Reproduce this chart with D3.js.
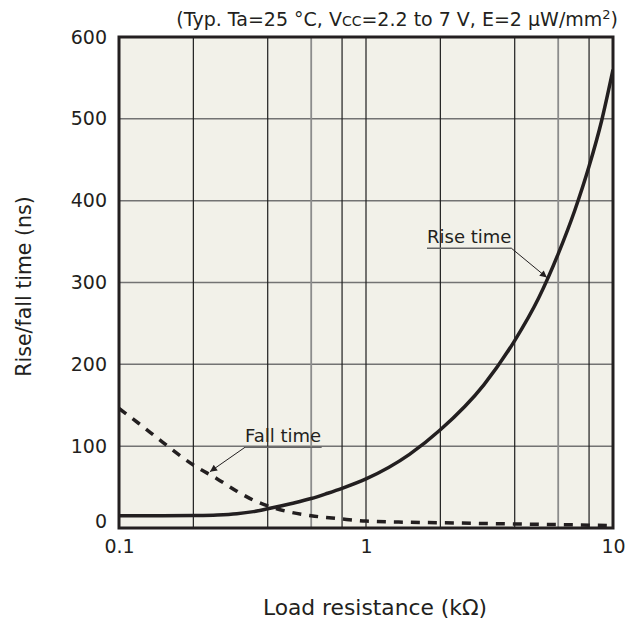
<!DOCTYPE html>
<html>
<head>
<meta charset="utf-8">
<script src="https://cdn.jsdelivr.net/npm/d3@7"></script>
<style>
  html, body { margin: 0; padding: 0; background: #fff; }
  svg { display: block; font-family: "DejaVu Sans", Verdana, sans-serif; }
</style>
</head>
<body>
<svg id="chart" width="625" height="624"></svg>
<script>
// ---- data ----
const riseR   = [0.1, 0.15, 0.2, 0.25, 0.3, 0.35, 0.4, 0.5, 0.6, 0.7, 0.8, 1, 1.5, 2, 3, 4, 5, 6, 7, 8, 9, 10];
const riseNs  = [15, 15, 15.3, 16, 17.5, 20, 23.5, 30, 36, 42.5, 48.5, 60, 90, 120, 175, 229, 281, 335, 388, 442, 498, 560];
const fallR   = [0.1, 0.12, 0.15, 0.2, 0.25, 0.3, 0.35, 0.4, 0.5, 0.6, 0.8, 1, 1.5, 2, 3, 5, 10];
const fallNs  = [146, 128, 105, 77, 60, 45, 34, 27, 19, 15, 11, 8.5, 7, 6.5, 5.5, 4.5, 3];
const yTicks  = [0, 100, 200, 300, 400, 500, 600];
const xTicks  = [0.1, 1, 10];
const xTickLabels = ["0.1", "1", "10"];
const xGridDark = [0.2, 0.4, 0.8, 1, 2, 4, 8];
const xGridGray = [0.6, 6];
const yGrid   = [100, 200, 300, 400, 500];
const annotations = [
  { text: "Rise time", labelR: 1.766, labelEndR: 3.88, labelNs: 341.8, tipR: 5.4, tipNs: 306 },
  { text: "Fall time", labelR: 0.3236, labelEndR: 0.6615, labelNs: 98.6, tipR: 0.2335, tipNs: 68.8, fromStart: true }
];

// ---- layout ----
const svg = d3.select("#chart");
const L = 119, R = 613, T = 37, B = 528;
const x = d3.scaleLog().domain([0.1, 10]).range([L, R]);
const y = d3.scaleLinear().domain([0, 600]).range([B, T]);
const ink = "#231f20";

svg.append("defs").append("marker")
  .attr("id", "arrow").attr("viewBox", "0 0 10 10")
  .attr("refX", 10).attr("refY", 5)
  .attr("markerWidth", 9).attr("markerHeight", 7)
  .attr("markerUnits", "userSpaceOnUse")
  .attr("orient", "auto")
  .append("path").attr("d", "M0,0 L10,5 L0,10 z").attr("fill", ink);

svg.append("rect").attr("x", L).attr("y", T).attr("width", R - L).attr("height", B - T)
  .attr("fill", "#f2f1e9");

const grid = svg.append("g");
grid.selectAll("line.h").data(yGrid).join("line")
  .attr("x1", L).attr("x2", R).attr("y1", d => y(d)).attr("y2", d => y(d))
  .attr("stroke", "#737373").attr("stroke-width", 1.5);
grid.selectAll("line.vd").data(xGridDark).join("line")
  .attr("y1", T).attr("y2", B).attr("x1", d => x(d)).attr("x2", d => x(d))
  .attr("stroke", "#1e1e1e").attr("stroke-width", 1.2);
grid.selectAll("line.vg").data(xGridGray).join("line")
  .attr("y1", T).attr("y2", B).attr("x1", d => x(d)).attr("x2", d => x(d))
  .attr("stroke", "#8c8c8c").attr("stroke-width", 1.8);

// curves
svg.append("clipPath").attr("id", "plotclip")
  .append("rect").attr("x", L).attr("y", T).attr("width", R - L).attr("height", B - T);
const line = d3.line().x(d => x(d[0])).y(d => y(d[1])).curve(d3.curveMonotoneX);
svg.append("path").datum(riseR.map((r, i) => [r, riseNs[i]]))
  .attr("d", line).attr("fill", "none").attr("stroke", ink).attr("stroke-width", 3.5)
  .attr("clip-path", "url(#plotclip)");
svg.append("path").datum(fallR.map((r, i) => [r, fallNs[i]]))
  .attr("d", line).attr("fill", "none").attr("stroke", ink).attr("stroke-width", 3.5)
  .attr("stroke-dasharray", "9,8").attr("clip-path", "url(#plotclip)");

// frame
svg.append("rect").attr("x", L).attr("y", T).attr("width", R - L).attr("height", B - T)
  .attr("fill", "none").attr("stroke", ink).attr("stroke-width", 3);

// axes (labels only)
const yAxis = d3.axisLeft(y).tickValues(yTicks).tickSize(0).tickPadding(12);
const gy = svg.append("g").attr("transform", `translate(${L},0)`).call(yAxis);
gy.select(".domain").remove();
gy.selectAll("text").attr("font-size", 19).attr("fill", ink).attr("font-family", "DejaVu Sans");
gy.selectAll(".tick").filter(d => d === 0).select("text").attr("dy", "-0.05em");

const xAxis = d3.axisBottom(x).tickValues(xTicks).tickFormat((d, i) => xTickLabels[i]).tickSize(0).tickPadding(12);
const gx = svg.append("g").attr("transform", `translate(0,${B})`).call(xAxis);
gx.select(".domain").remove();
gx.selectAll("text").attr("font-size", 19).attr("fill", ink).attr("font-family", "DejaVu Sans");

// axis titles
svg.append("text").attr("x", 375).attr("y", 615)
  .attr("text-anchor", "middle").attr("font-size", 21.8).attr("fill", ink)
  .text("Load resistance (kΩ)");
svg.append("text").attr("transform", `translate(31,${(T + B) / 2 + 4}) rotate(-90)`)
  .attr("text-anchor", "middle").attr("font-size", 20.5).attr("fill", ink)
  .text("Rise/fall time (ns)");

// condition note
const note = svg.append("text").attr("x", 618).attr("y", 26)
  .attr("text-anchor", "end").attr("font-size", 19).attr("fill", ink);
note.append("tspan").text("(Typ. Ta=25 °C, V");
note.append("tspan").attr("font-size", 14).text("CC");
note.append("tspan").text("=2.2 to 7 V, E=2 µW/mm");
note.append("tspan").attr("font-size", 13).attr("dy", -7).text("2");
note.append("tspan").attr("dy", 7).text(")");

// annotations
annotations.forEach(a => {
  const x0 = x(a.labelR), x1 = x(a.labelEndR), yy = y(a.labelNs);
  svg.append("text").attr("x", x0).attr("y", yy - 5)
    .attr("font-size", 18).attr("fill", ink).text(a.text);
  svg.append("line").attr("x1", x0).attr("x2", x1).attr("y1", yy).attr("y2", yy)
    .attr("stroke", "#666").attr("stroke-width", 1.5);
  const sx = a.fromStart ? x0 : x1;
  svg.append("line").attr("x1", sx).attr("y1", yy)
    .attr("x2", x(a.tipR)).attr("y2", y(a.tipNs))
    .attr("stroke", ink).attr("stroke-width", 1)
    .attr("marker-end", "url(#arrow)");
});
</script>
</body>
</html>
